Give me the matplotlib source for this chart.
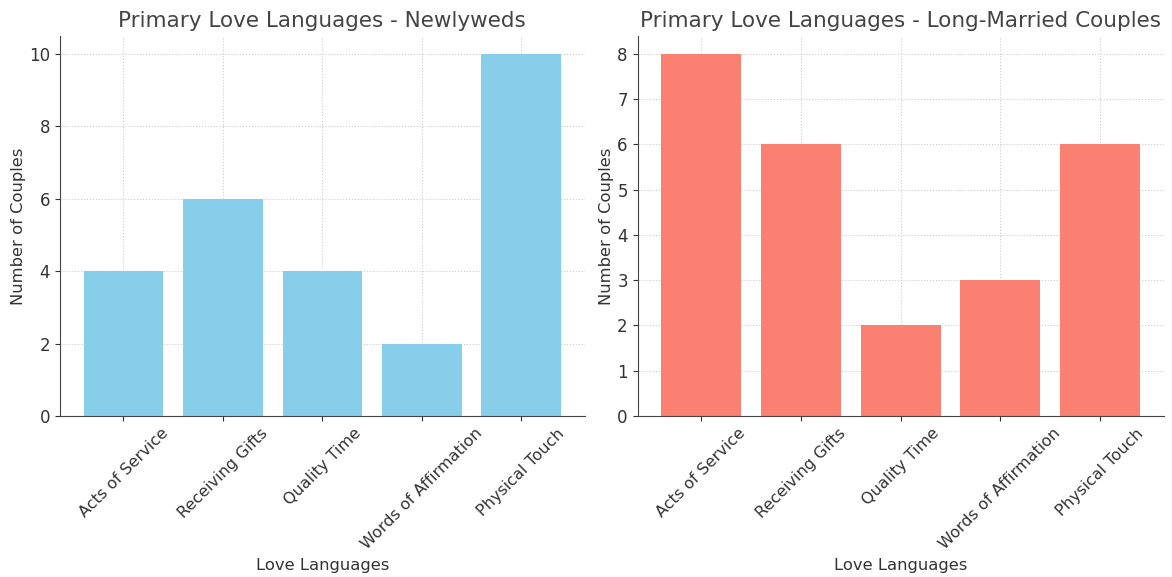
import matplotlib.pyplot as plt

languages = ["Acts of Service", "Receiving Gifts", "Quality Time",
             "Words of Affirmation", "Physical Touch"]
newlyweds = [4, 6, 4, 2, 10]
long_married = [8, 6, 2, 3, 6]

plt.rcParams['text.color'] = '#333333'
plt.rcParams['axes.labelcolor'] = '#333333'
plt.rcParams['xtick.color'] = '#333333'
plt.rcParams['ytick.color'] = '#333333'

fig = plt.figure(figsize=(11.72, 5.77), dpi=100)
ax1 = fig.add_axes([0.051, 0.279, 0.448, 0.659])
ax2 = fig.add_axes([0.544, 0.279, 0.449, 0.659])

panels = [
    (ax1, newlyweds, 'skyblue', 'Primary Love Languages - Newlyweds'),
    (ax2, long_married, 'salmon', 'Primary Love Languages - Long-Married Couples'),
]

for ax, values, color, title in panels:
    ax.bar(languages, values, color=color, zorder=2)
    ax.set_title(title, fontsize=15.5, color='#444444')
    ax.set_xlabel('Love Languages', fontsize=11.8)
    ax.set_ylabel('Number of Couples', fontsize=11.8, labelpad=2)
    ax.tick_params(axis='x', rotation=45, labelsize=11.5)
    ax.tick_params(axis='y', labelsize=12)
    ax.grid(True, linestyle=':', color='#cccccc', linewidth=0.8, zorder=0)
    ax.spines['top'].set_visible(False)
    ax.spines['right'].set_visible(False)
    ax.spines['left'].set_color('#444444')
    ax.spines['bottom'].set_color('#444444')

plt.savefig('out.png', dpi=100)
